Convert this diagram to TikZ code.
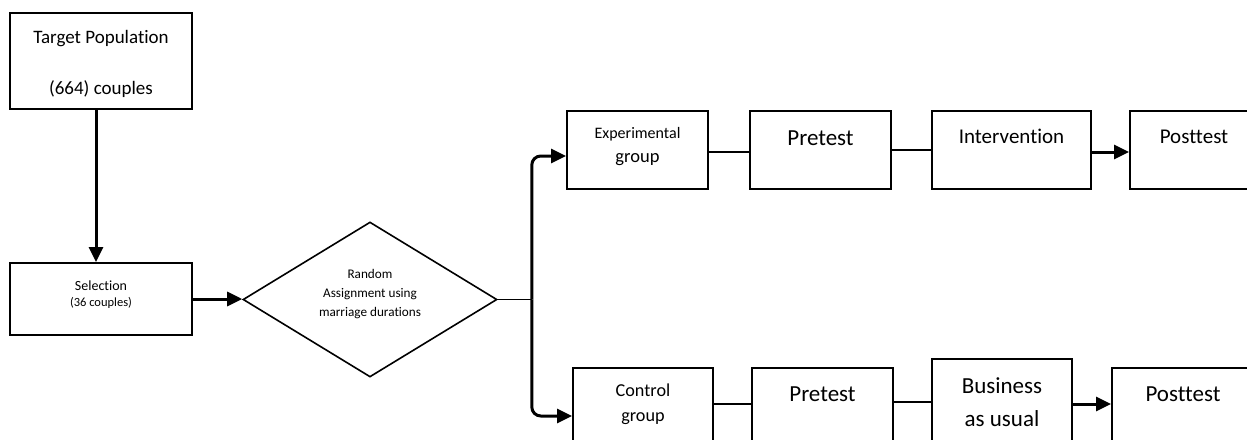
\documentclass[tikz,border=0pt]{standalone}
\usepackage{fontspec}
\setmainfont{Carlito}[Ligatures={NoCommon,NoRare,NoContextual}]
\usetikzlibrary{arrows.meta,shapes.geometric}
\begin{document}
\begin{tikzpicture}[
  x=1pt, y=-1pt,
  every node/.style={inner sep=0pt, align=center},
  box/.style={draw, line width=2pt, anchor=north west},
  decision/.style={diamond, draw, line width=1.6pt, aspect=1.64,
    minimum width=254pt, minimum height=155pt},
  flow/.style={line width=3pt, -{Triangle[length=15pt,width=14pt]}},
  link/.style={line width=2pt}
]
\useasboundingbox (0,0) rectangle (1247,439);
\clip (0,0) rectangle (1247,439);

\node[box, minimum width=182, text height=81, text depth=15, font=\fontsize{19}{23}\selectfont] (target) at (9,12) {Target Population\\[28pt](664) couples};
\node[box, minimum width=182, text height=43, text depth=29, font=\fontsize{14}{16}\selectfont] (select) at (9,262) {Selection\\ \fontsize{12.5}{16}\selectfont (36 couples)};
\node[decision, text height=43, text depth=10, font=\fontsize{13.2}{19}\selectfont] (assign) at (370,299.5) {Random\\Assignment using\\marriage durations};

\node[box, minimum width=141, text height=51, text depth=27, font=\fontsize{18.5}{24}\selectfont] (exp) at (566,110) {{\fontsize{16}{19}\selectfont Experimental}\\group};
\node[box, minimum width=141, text height=34, text depth=44, font=\fontsize{23}{28}\selectfont] (pretA) at (749,110) {Pretest};
\node[box, minimum width=159, text height=32, text depth=46, font=\fontsize{21}{26}\selectfont] (interv) at (931,110) {Intervention};
\node[box, minimum width=128, text height=32, text depth=46, font=\fontsize{21}{26}\selectfont] (postA) at (1129,110) {Posttest};

\node[box, minimum width=140, text height=53, text depth=21, font=\fontsize{18.2}{25}\selectfont] (ctrl) at (572,367) {Control\\group};
\node[box, minimum width=141, text height=33, text depth=41, font=\fontsize{23}{28}\selectfont] (pretB) at (751,367) {Pretest};
\node[box, minimum width=140, text height=67, text depth=23, font=\fontsize{23}{33}\selectfont] (usual) at (931,358) {Business\\as usual};
\node[box, minimum width=142, text height=33, text depth=41, font=\fontsize{23}{28}\selectfont] (postB) at (1111,367) {Posttest};

\draw[flow] ([xshift=-5pt]target.south) -- ([xshift=-5pt]select.north);
\draw[flow] (select.east) -- (select.east -| assign.west);
\draw[line width=1.5pt] (assign.east) -- ++(34,0) coordinate (split);
\draw[flow, rounded corners=9pt] (split) |- ([yshift=-6pt]exp.west);
\draw[flow, rounded corners=9pt] (split) |- ([yshift=-11pt]ctrl.west);

\draw[link] ([yshift=-2pt]exp.east) -- ([yshift=-2pt]pretA.west);
\draw[link] (pretA.east) -- (interv.west);
\draw[flow] ([yshift=-2pt]interv.east) -- ([yshift=-2pt]postA.west);

\draw[link] ([yshift=1pt]ctrl.east) -- ([yshift=1pt]pretB.west);
\draw[link] ([yshift=3pt]pretB.east) -- ([yshift=3pt]pretB.east -| usual.west);
\draw[flow] (usual.east) -- (usual.east -| postB.west);
\end{tikzpicture}
\end{document}
